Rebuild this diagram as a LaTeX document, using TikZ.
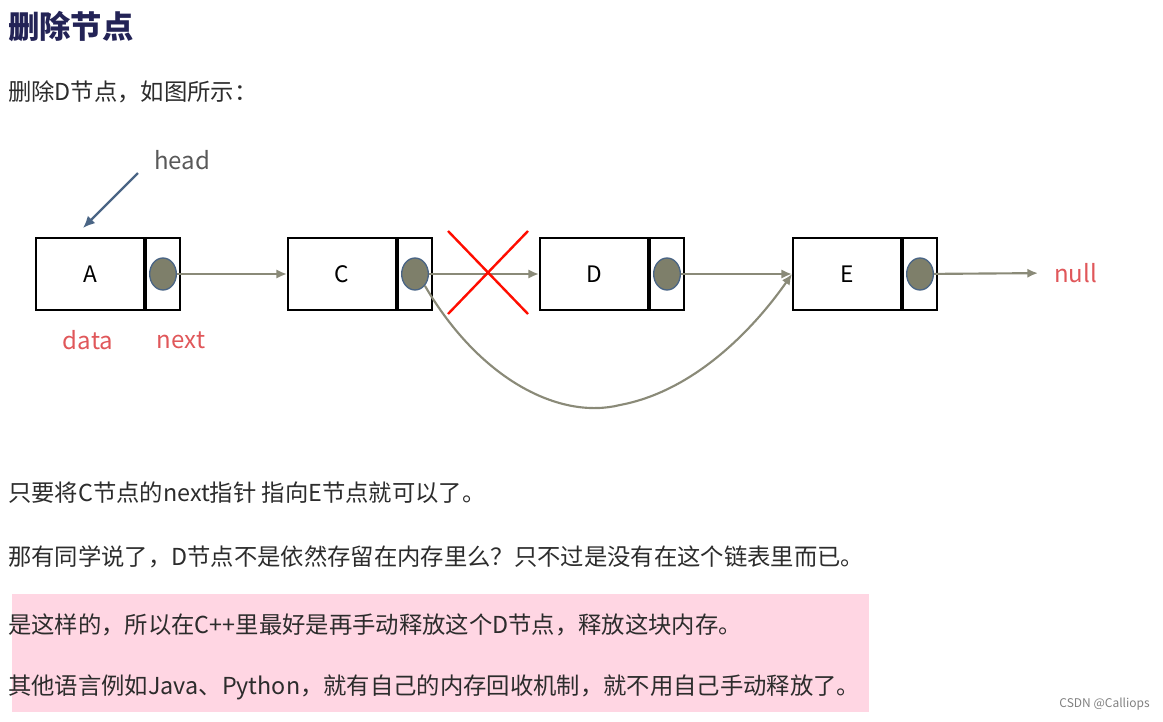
\documentclass[tikz,border=0pt]{standalone}
\usepackage{fontspec}
\setmainfont{Noto Sans CJK SC}
\begin{document}
\begin{tikzpicture}[x=0.75pt,y=-0.75pt,
  box/.style={draw,line width=1.5pt,minimum height=54pt,inner sep=0pt,anchor=north west},
  dot/.style={ellipse,draw=headc,line width=1pt,fill=olivegray,minimum width=20pt,minimum height=24pt,inner sep=0pt},
  link/.style={draw=linkgray,line width=1.6pt,-{Latex[length=8pt,width=7pt]}},
  txt/.style={anchor=west,font=\fontsize{17.5}{20}\selectfont,text=textc,inner sep=0pt},
  red/.style={text=redc,font=\fontsize{18}{21}\selectfont,inner sep=0pt}]
\usetikzlibrary{arrows.meta,shapes.geometric}
\definecolor{olivegray}{HTML}{7E7F6A}
\definecolor{linkgray}{HTML}{8A8A78}
\definecolor{redc}{HTML}{E0575A}
\definecolor{textc}{HTML}{2C2C2C}
\definecolor{pinkc}{HTML}{FFD6E3}
\definecolor{headc}{HTML}{4A6585}
\useasboundingbox (0,0) rectangle (1163,721);
\fill[pinkc] (12,594) rectangle (869,712);
\node[anchor=west,inner sep=0pt,font=\bfseries\fontsize{23.5}{26}\selectfont,text=textc!80!blue] (title) at (8,27) {删除节点};
\node[txt] (t0) at (8,92) {删除D节点，如图所示：};
% boxes
\foreach \n/\x/\l in {A/35/A,C/287/C,D/539/D,E/792/E}{
  \node[box,minimum width=81pt] (\n d) at (\x,237) {\fontsize{17}{19}\selectfont \l};
  \node[box,minimum width=25.5pt,anchor=north west] (\n n) at (\n d.north east) {};
  \node[dot] (\n c) at (\n n.center) {};
}
\draw[link] (Ac) -- (Cd.west);
\draw[link] (Cc) -- (Dd.west);
\draw[link] (Dc) -- (Ed.west);
\node[red,anchor=west] (null) at (1054,273) {null};
\draw[link,shorten >=12pt] (Ec) -- (null.west);
\draw[link] (Cc.south east) .. controls (480,380) and (560,420) .. (620,405) .. controls (700,390) and (760,320) .. (Ed.west);
\draw[red!90!orange,line width=1.8pt] (448,231) -- (528,314) (528,231) -- (448,314);
\node[font=\fontsize{18}{21}\selectfont,text=black!65,inner sep=0pt] (head) at (182,160) {head};
\draw[headc,line width=1.8pt,-{Latex[length=9pt,width=8pt]}] (138,173) -- (83,228);
\node[red] (data) at (88,340) {data};
\node[red] (next) at (181,340) {next};
\node[txt] (t1) at (8,493) {只要将C节点的next指针 指向E节点就可以了。};
\node[txt] (t2) at (8,557) {那有同学说了，D节点不是依然存留在内存里么？只不过是没有在这个链表里而已。};
\node[txt] (t3) at (8,625) {是这样的，所以在C++里最好是再手动释放这个D节点，释放这块内存。};
\node[txt] (t4) at (8,687) {其他语言例如Java、Python，就有自己的内存回收机制，就不用自己手动释放了。};
\node[anchor=east,inner sep=0pt,font=\fontsize{9}{10}\selectfont,text=black!50] (csdn) at (1150,704) {CSDN @Calliops};
\end{tikzpicture}
\end{document}
